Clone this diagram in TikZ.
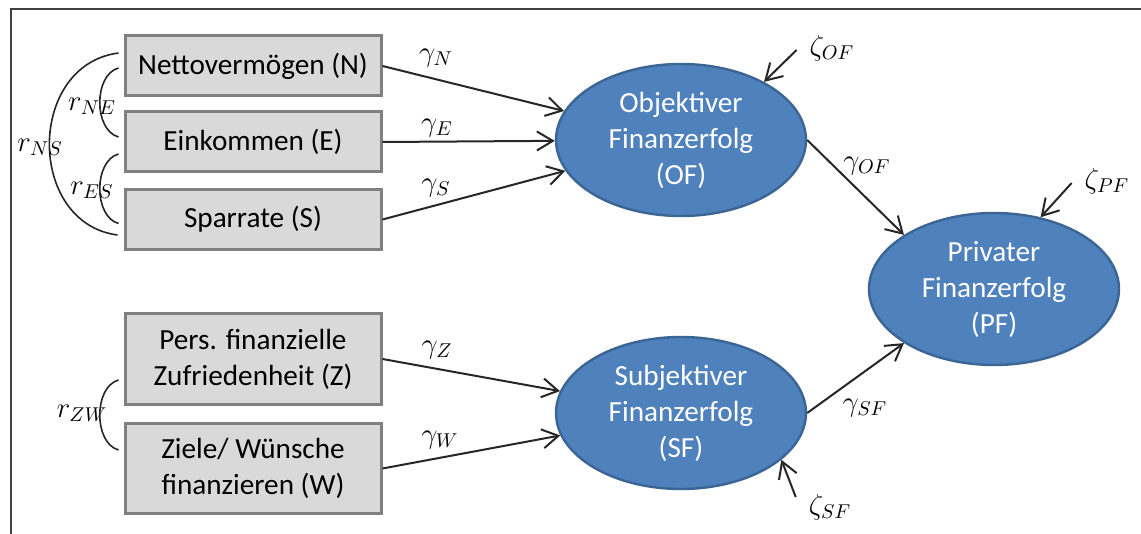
\documentclass[tikz,border=0pt]{standalone}
\usepackage{fontspec}
\setmainfont{Carlito}
\usepackage{tikz}
\usetikzlibrary{arrows.meta,shapes.geometric}
\definecolor{boxgray}{HTML}{D9D9D9}
\definecolor{boxline}{HTML}{808080}
\definecolor{ellblue}{HTML}{4F81BD}
\definecolor{ellline}{HTML}{3A6594}
\definecolor{linegray}{HTML}{262626}
\definecolor{framegray}{HTML}{404040}
\def\framelines{(11,534) -- (11,9) -- (1141,9)}
\tikzset{
  var/.style={draw=boxline, fill=boxgray, line width=1.5pt, minimum width=128pt,
    minimum height=30pt, inner sep=0pt, align=center},
  lat/.style={ellipse, draw=ellline, fill=ellblue, line width=1.2pt, text=white,
    minimum width=125pt, minimum height=76pt, inner sep=0pt, align=center},
  effect/.style={-{Straight Barb[length=8pt,width=9.5pt]}, line width=1pt, draw=linegray},
  corr/.style={line width=0.8pt, draw=linegray}
}

\begin{document}
\begin{tikzpicture}[x=0.5pt, y=-0.5pt, font=\fontsize{14.6}{18}\selectfont]
\useasboundingbox (0,0) rectangle (1141,534);
\draw[line width=1pt, framegray] \framelines;
% observed variables
\node[var] (N) at (253,66) {Nettovermögen (N)};
\node[var] (E) at (253,142) {Einkommen (E)};
\node[var] (S) at (253,219.5) {Sparrate (S)};
\node[var, minimum height=45pt] (Z) at (253,359) {Pers. finanzielle\\Zufriedenheit (Z)};
\node[var, minimum height=45pt] (W) at (253,468.5) {Ziele/ Wünsche\\finanzieren (W)};
% latent variables
\node[lat] (OF) at (681,140) {Objektiver\\Finanzerfolg\\(OF)};
\node[lat] (SF) at (681,413) {Subjektiver\\Finanzerfolg\\(SF)};
\node[lat] (PF) at (994,289) {Privater\\Finanzerfolg\\(PF)};
% correlations
\draw[corr] ([shift={(-5,-13)}]N.west) .. controls +(-92,12) and +(-91,-12) .. ([shift={(-6,15.5)}]S.west);
\draw[corr] ([shift={(-5,2)}]N.west) .. controls +(-25,7) and +(-25,-7) .. ([shift={(-5,-5)}]E.west);
\draw[corr] ([shift={(-5,12)}]E.west) .. controls +(-25,7) and +(-25,-7) .. ([shift={(-5,4)}]S.west);
\draw[corr] ([shift={(-5,21)}]Z.west) .. controls +(-25,7) and +(-25,-7) .. ([shift={(-5,-18.5)}]W.west);
\node (rNS) at (40,147) {$r_{NS}$};
\node (rNE) at (92,106) {$r_{NE}$};
\node (rES) at (92,190) {$r_{ES}$};
\node (rZW) at (82,413) {$r_{ZW}$};
% paths
\draw[effect] (N.east) -- (OF);
\draw[effect] (E.east) -- (OF);
\draw[effect] (S.east) -- (OF);
\draw[effect] (Z.east) -- (SF);
\draw[effect] (W.east) -- (SF);
\draw[effect] (OF.east) -- (PF.149);
\draw[effect] (SF.east) -- (PF.211);
\node (gN) at (436,58) {$\gamma_N$};
\node (gE) at (437,128) {$\gamma_E$};
\node (gS) at (436,188) {$\gamma_S$};
\node (gZ) at (437,350) {$\gamma_Z$};
\node (gW) at (440,440) {$\gamma_W$};
\node (gOF) at (867,166) {$\gamma_{OF}$};
\node (gSF) at (865,408) {$\gamma_{SF}$};
% disturbances
\node (zOF) at (832,48) {$\zeta_{OF}$};
\node (zPF) at (1107,181) {$\zeta_{PF}$};
\node (zSF) at (830,507) {$\zeta_{SF}$};
\draw[effect] ([shift={(-6,2)}]zOF.west) -- (OF.35);
\draw[effect] ([shift={(-6,2)}]zPF.west) -- (PF.57);
\draw[effect] ([shift={(-6,-10)}]zSF.west) -- (SF.-25);
\end{tikzpicture}
\end{document}
